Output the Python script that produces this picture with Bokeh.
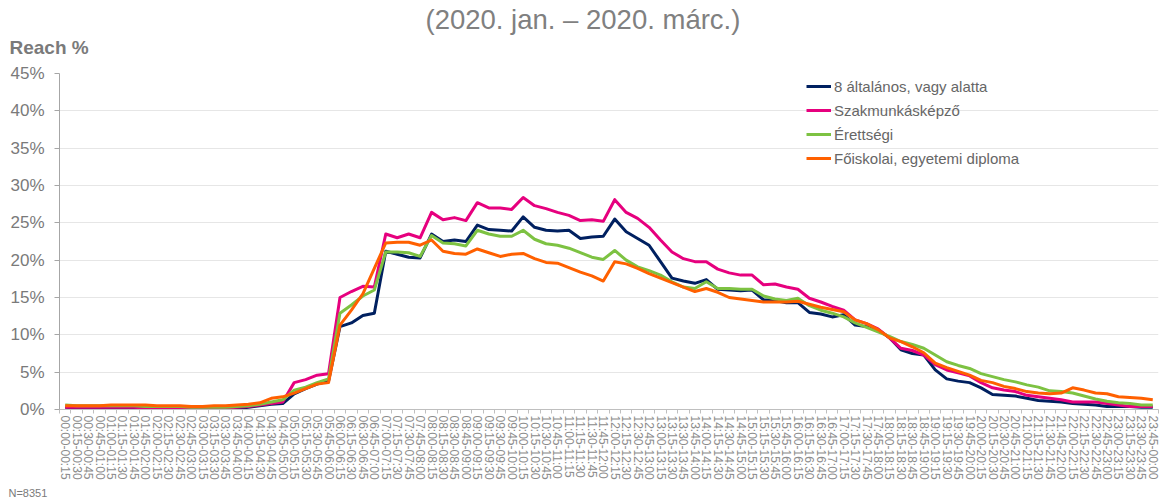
import numpy as np
from bokeh.plotting import figure
from bokeh.models import Range1d, FixedTicker, PrintfTickFormatter, Legend, LegendItem, Title
from bokeh.embed import file_html
from bokeh.resources import INLINE

# ---- data -------------------------------------------------------------
slots = []
for k in range(96):
    a = k * 15
    b = (a + 15) % 1440
    slots.append(f"{a // 60:02d}:{a % 60:02d}-{b // 60:02d}:{b % 60:02d}")

series_names = ["8 általános, vagy alatta", "Szakmunkásképző", "Érettségi",
                "Főiskolai, egyetemi diploma"]

alap = [0.3, 0.2, 0.2, 0.2, 0.2, 0.2, 0.2, 0.1, 0.1, 0.1, 0.1, 0.1, 0.1, 0.1, 0.1, 0.1,
        0.3, 0.5, 0.7, 0.8, 2.1, 2.8, 3.4, 3.8, 11.1, 11.6, 12.6, 12.9, 21.2, 20.8, 20.4, 20.3,
        23.5, 22.5, 22.7, 22.5, 24.7, 24.1, 24.0, 23.9, 25.8, 24.4, 24.0, 23.9, 24.0, 22.9, 23.1, 23.2,
        25.5, 23.8, 22.9, 22.0, 19.8, 17.6, 17.2, 16.9, 17.4, 16.1, 16.0, 15.9, 16.0, 14.7, 14.6, 14.3,
        14.3, 13.0, 12.8, 12.4, 12.7, 11.3, 11.1, 10.7, 9.6, 8.0, 7.5, 7.3, 5.3, 4.1, 3.8, 3.6,
        2.9, 2.0, 1.9, 1.8, 1.5, 1.2, 1.1, 1.0, 0.8, 0.7, 0.6, 0.4, 0.4, 0.4, 0.3, 0.3]

szakmunkas = [0.3, 0.3, 0.3, 0.3, 0.3, 0.3, 0.3, 0.2, 0.2, 0.2, 0.2, 0.2, 0.2, 0.2, 0.2, 0.3,
              0.4, 0.6, 0.8, 1.0, 3.6, 4.0, 4.6, 4.8, 15.0, 15.8, 16.5, 16.4, 23.5, 23.0, 23.5, 23.0,
              26.4, 25.4, 25.7, 25.3, 27.7, 27.0, 27.0, 26.8, 28.4, 27.3, 26.9, 26.4, 26.0, 25.3, 25.4, 25.2,
              28.1, 26.4, 25.6, 24.4, 22.7, 21.1, 20.2, 19.8, 19.8, 18.8, 18.3, 18.0, 18.0, 16.7, 16.8, 16.4,
              16.1, 14.9, 14.4, 13.8, 13.3, 12.0, 11.5, 10.8, 9.6, 8.2, 7.9, 7.3, 6.0, 5.3, 4.9, 4.5,
              3.6, 2.9, 2.6, 2.4, 1.9, 1.7, 1.5, 1.3, 1.0, 1.0, 1.0, 0.8, 0.6, 0.4, 0.4, 0.4]

erettsegi = [0.6, 0.5, 0.5, 0.5, 0.5, 0.5, 0.5, 0.4, 0.4, 0.4, 0.4, 0.3, 0.3, 0.3, 0.3, 0.4,
             0.5, 0.7, 1.0, 1.3, 2.6, 3.0, 3.6, 4.1, 12.9, 14.0, 15.2, 16.0, 21.1, 21.1, 21.0, 20.5,
             23.3, 22.3, 22.2, 21.9, 24.0, 23.5, 23.2, 23.2, 24.0, 22.8, 22.2, 22.0, 21.6, 21.0, 20.4, 20.1,
             21.3, 20.0, 19.1, 18.6, 18.0, 17.1, 16.4, 16.2, 17.1, 16.2, 16.2, 16.1, 16.1, 15.2, 14.8, 14.6,
             14.9, 13.9, 13.3, 12.9, 12.4, 11.6, 11.0, 10.4, 9.8, 9.1, 8.7, 8.2, 7.3, 6.4, 5.9, 5.5,
             4.8, 4.4, 4.0, 3.7, 3.3, 3.0, 2.5, 2.4, 2.2, 1.8, 1.4, 1.1, 0.9, 0.8, 0.6, 0.6]

diploma = [0.5, 0.5, 0.5, 0.5, 0.6, 0.6, 0.6, 0.6, 0.5, 0.5, 0.5, 0.4, 0.4, 0.5, 0.5, 0.6,
           0.7, 0.9, 1.5, 1.7, 2.2, 2.8, 3.4, 3.6, 11.3, 13.3, 15.5, 18.9, 22.3, 22.4, 22.4, 22.0,
           22.7, 21.2, 20.9, 20.8, 21.5, 21.0, 20.5, 20.8, 20.9, 20.2, 19.7, 19.6, 19.0, 18.4, 17.9, 17.2,
           19.8, 19.5, 18.9, 18.2, 17.6, 17.0, 16.4, 15.8, 16.2, 15.7, 15.0, 14.8, 14.6, 14.4, 14.4, 14.4,
           14.5, 14.1, 13.7, 13.4, 13.1, 12.0, 11.5, 10.7, 9.6, 9.1, 8.4, 7.6, 6.2, 5.6, 5.1, 4.6,
           3.9, 3.6, 3.1, 2.8, 2.4, 2.2, 2.1, 2.2, 2.9, 2.6, 2.2, 2.1, 1.7, 1.6, 1.5, 1.3]

colors = ["#002060", "#E6007E", "#7DC242", "#FF6000"]
y_ticks = [0, 5, 10, 15, 20, 25, 30, 35, 40, 45]

# ---- figure -----------------------------------------------------------
FONT = "Liberation Sans"
n = len(slots)
xs = np.arange(n) + 0.5

p = figure(width=1161, height=504, output_backend="svg", toolbar_location=None,
           title=None,
           x_range=Range1d(0, n), y_range=Range1d(0, 45),
           min_border_left=59, min_border_right=3, min_border_top=73, min_border_bottom=94)
p.outline_line_color = None
p.background_fill_color = "white"
p.xgrid.grid_line_color = None
p.ygrid.grid_line_color = "#e6e6e6"
p.ygrid.grid_line_width = 1

# x axis
p.xaxis.ticker = FixedTicker(ticks=list(xs), minor_ticks=list(range(n + 1)))
p.xaxis.major_label_overrides = {float(x): s for x, s in zip(xs, slots)}
p.xaxis.major_label_orientation = "vertical"
p.xaxis.major_tick_line_color = None
p.xaxis.major_tick_out = 0
p.xaxis.major_tick_in = 0
p.xaxis.minor_tick_line_color = "#bfbfbf"
p.xaxis.minor_tick_out = 4
p.xaxis.minor_tick_in = 0
p.xaxis.axis_line_color = "#bfbfbf"
p.xaxis.major_label_text_font = FONT
p.xaxis.major_label_text_font_size = "12px"
p.xaxis.major_label_text_color = "#8c8c8c"
p.xaxis.major_label_standoff = 2

# y axis
p.yaxis.ticker = FixedTicker(ticks=y_ticks)
p.yaxis.formatter = PrintfTickFormatter(format="%d%%")
p.yaxis.axis_line_color = "#a6a6a6"
p.yaxis.major_tick_line_color = "#a6a6a6"
p.yaxis.major_tick_out = 5
p.yaxis.major_tick_in = 0
p.yaxis.minor_tick_line_color = None
p.yaxis.major_label_text_font = FONT
p.yaxis.major_label_text_font_size = "17px"
p.yaxis.major_label_text_color = "#7a7a7a"
p.yaxis.major_label_standoff = 10

items = []
for name, vals, col in zip(series_names, [alap, szakmunkas, erettsegi, diploma], colors):
    r = p.line(xs, vals, line_color=col, line_width=3, line_join="round")
    items.append(LegendItem(label=name, renderers=[r]))

legend = Legend(items=items, location=(747, 241), orientation="vertical",
                label_text_font=FONT, label_text_font_size="15px", label_text_color="#666666",
                glyph_width=25, glyph_height=20, label_height=20, label_standoff=3,
                spacing=4, padding=0, margin=0,
                border_line_color=None, background_fill_alpha=0)
p.add_layout(legend, "center")

# texts above the frame: spacer (nearest the frame), "Reach %", main title
p.add_layout(Title(text=" ", text_font=FONT, text_font_size="12px", standoff=0), "above")
p.add_layout(Title(text="Reach %", align="left", offset=-50, vertical_align="bottom",
                   text_font=FONT, text_font_size="19px", text_font_style="bold",
                   text_color="#7a7a7a", standoff=0), "above")
p.add_layout(Title(text="(2020. jan. – 2020. márc.)", align="left", offset=366,
                   vertical_align="bottom", text_font=FONT, text_font_size="27.5px",
                   text_font_style="normal", text_color="#808080", standoff=0), "above")
# footnote below the axis
p.add_layout(Title(text="N=8351", align="left", offset=-51, vertical_align="top",
                   text_font=FONT, text_font_size="11px", text_font_style="normal",
                   text_color="#7a7a7a", standoff=8), "below")

open("out.html", "w").write(file_html(p, INLINE))
